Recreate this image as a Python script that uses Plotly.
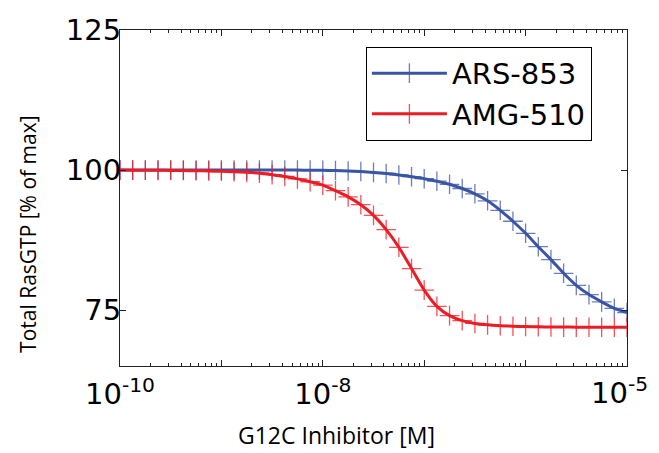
import plotly.graph_objects as go

# log10 of inhibitor concentration [M]
log_conc = [-10.0, -9.875, -9.75, -9.625, -9.5, -9.375, -9.25, -9.125,
            -9.0, -8.875, -8.75, -8.625, -8.5, -8.375, -8.25, -8.125,
            -8.0, -7.875, -7.75, -7.625, -7.5, -7.375, -7.25, -7.125,
            -7.0, -6.875, -6.75, -6.625, -6.5, -6.375, -6.25, -6.125,
            -6.0, -5.875, -5.75, -5.625, -5.5, -5.375, -5.25, -5.125, -5.0]

ars853 = [100.0, 100.0, 100.0, 100.0, 100.0, 100.0, 100.0, 100.0,
          100.0, 100.0, 100.0, 100.0, 99.99, 99.99, 99.98, 99.97,
          99.95, 99.90, 99.83, 99.72, 99.57, 99.38, 99.12, 98.80,
          98.45, 98.00, 97.45, 96.70, 95.75, 94.50, 92.80, 90.85,
          88.70, 86.30, 84.00, 81.55, 79.40, 77.75, 76.45, 75.30, 74.55]

amg510 = [99.98, 99.97, 99.96, 99.94, 99.93, 99.90, 99.87, 99.82,
          99.77, 99.69, 99.58, 99.42, 99.17, 98.85, 98.42, 97.90,
          97.30, 96.30, 95.20, 93.80, 91.90, 89.35, 86.20, 82.40,
          78.55, 75.65, 74.00, 73.10, 72.60, 72.35, 72.20, 72.10,
          72.05, 72.00, 71.97, 71.95, 71.94, 71.93, 71.92, 71.92, 71.91]

series_names = ["ARS-853", "AMG-510"]
series_colors = ["#3B55A6", "#ED1C24"]

x_tick_vals = [1e-10, 1e-9, 1e-8, 1e-7, 1e-6, 1e-5]
x_tick_text = ["10<sup>-10</sup>", "", "10<sup>-8</sup>", "", "", ""]
x_last_label = "10<sup>-5</sup>"   # drawn separately so it is not clipped at the edge
y_tick_vals = [75, 100, 125]
y_tick_text = ["75", "100", "125"]

conc = [10 ** v for v in log_conc]
x_minor = [m * 10 ** e for e in range(-10, -5) for m in range(2, 10)]

fig = go.Figure()
for name, vals, col in zip(series_names, [ars853, amg510], series_colors):
    fig.add_trace(go.Scatter(
        x=conc, y=vals, name=name, mode="lines+markers",
        line=dict(color=col, width=3, shape="spline", smoothing=0.6),
        marker=dict(symbol="cross-thin", size=14, opacity=0.75,
                    color=col, line=dict(width=1.3, color=col)),
    ))

tick_font = dict(family="DejaVu Sans", size=29, color="black")
title_font = dict(family="Open Sans", size=21, color="black")

# page has an 8px body margin, so the figure is 8px smaller than the window
fig.update_layout(
    width=651, height=445,
    margin=dict(l=112, r=32, t=22, b=87, autoexpand=False),
    paper_bgcolor="white", plot_bgcolor="white",
    showlegend=True,
    legend=dict(x=0.485, y=0.95, xanchor="left", yanchor="top",
                bordercolor="black", borderwidth=1, bgcolor="white",
                font=dict(family="DejaVu Sans", size=29, color="black"),
                itemwidth=75, tracegroupgap=4),
    xaxis=dict(type="log", range=[-10, -5], automargin=False,
               tickvals=x_tick_vals, ticktext=x_tick_text,
               ticks="inside", ticklen=6, tickcolor="#222", tickwidth=1,
               ticklabelstandoff=2,
               minor=dict(tickvals=x_minor, ticks="inside", ticklen=3,
                          tickcolor="#222", showgrid=False),
               showline=True, linecolor="#222", linewidth=1.2, mirror="ticks",
               showgrid=False, zeroline=False, tickfont=tick_font),
    yaxis=dict(range=[65, 125], automargin=False,
               tickvals=y_tick_vals, ticktext=y_tick_text,
               ticks="inside", ticklen=6, tickcolor="#222", tickwidth=1,
               ticklabelstandoff=-8,
               showline=True, linecolor="#222", linewidth=1.2, mirror="ticks",
               showgrid=False, zeroline=False, tickfont=tick_font),
    annotations=[
        dict(text=x_last_label, xref="x", yref="paper",
             x=-5, y=0, xanchor="center", yanchor="top",
             xshift=-8, yshift=-4, showarrow=False, font=tick_font),
        dict(text="G12C Inhibitor [M]", xref="paper", yref="paper",
             x=0.428, y=-0.255, xanchor="center", yanchor="bottom",
             borderpad=0,
             showarrow=False, font=dict(family="Open Sans", size=23, color="black")),
        dict(text="Total RasGTP [% of max]", xref="paper", yref="paper",
             x=-0.1815, y=0.393, xanchor="center", yanchor="middle",
             textangle=-90, showarrow=False, font=title_font),
    ],
)

fig.write_html("out.html")
